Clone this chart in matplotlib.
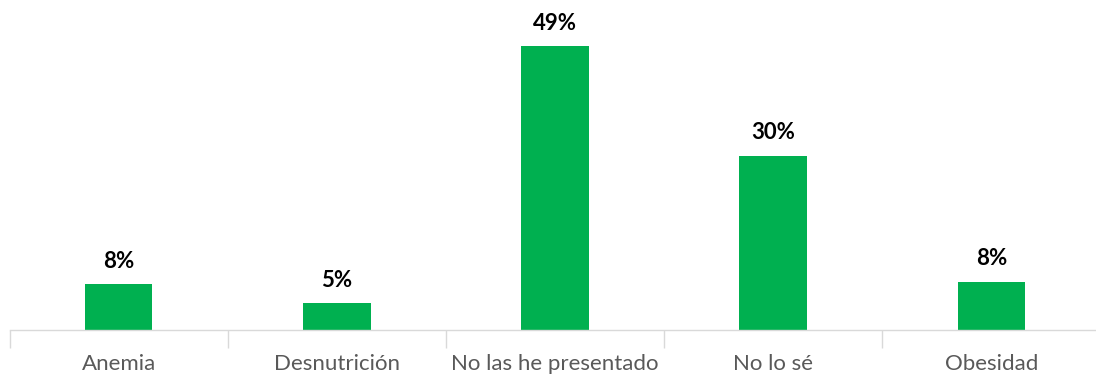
import matplotlib.pyplot as plt
import numpy as np

# ==========================
# DATOS
# ==========================

categorias = ["Anemia", "Desnutrición", "No las he presentado", "No lo sé", "Obesidad"]
valores = [7.9, 4.6, 49.0, 30.1, 8.3]
etiquetas = ["8%", "5%", "49%", "30%", "8%"]

verde = "#00B050"
gris_eje = "#D9D9D9"
gris_texto = "#595959"

plt.rcParams['font.family'] = ['Lato', 'DejaVu Sans']

# ==========================
# FIGURA
# ==========================

fig = plt.figure(figsize=(10.96, 3.74), dpi=100)
ax = fig.add_axes([9.5 / 1096, 44 / 374, 1091 / 1096, 318.5 / 374])

x = np.arange(len(categorias))
barras = ax.bar(x, valores, width=0.31, color=verde, zorder=2)

for barra, texto in zip(barras, etiquetas):
    ax.annotate(
        texto,
        (barra.get_x() + barra.get_width() / 2, barra.get_height()),
        xytext=(0, 9),
        textcoords="offset points",
        ha="center",
        va="bottom",
        fontsize=16,
        fontweight="bold",
        color="black"
    )

ax.set_xlim(-0.5, len(categorias) - 0.5)
ax.set_ylim(0, 55)

ax.set_xticks(x)
ax.set_xticklabels(categorias, fontsize=16, color=gris_texto)
ax.tick_params(axis="x", which="major", length=0, pad=17)
ax.set_xticks(np.arange(-0.5, len(categorias)), minor=True)
ax.tick_params(axis="x", which="minor", length=13, color=gris_eje, width=1)

ax.set_yticks([])
for lado in ["top", "right", "left"]:
    ax.spines[lado].set_visible(False)
ax.spines["bottom"].set_color(gris_eje)
ax.spines["bottom"].set_linewidth(1)

fig.savefig("out.png", dpi=100)
